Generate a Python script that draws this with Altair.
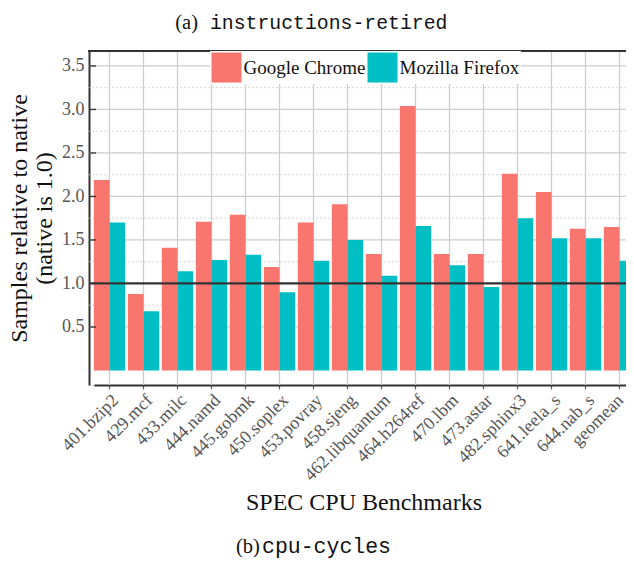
import altair as alt
import pandas as pd

benchmarks = ["401.bzip2", "429.mcf", "433.milc", "444.namd", "445.gobmk", "450.soplex",
              "453.povray", "458.sjeng", "462.libquantum", "464.h264ref", "470.lbm",
              "473.astar", "482.sphinx3", "641.leela_s", "644.nab_s", "geomean"]
chrome = [2.19, 0.88, 1.41, 1.71, 1.79, 1.19, 1.70, 1.91, 1.34, 3.04, 1.34, 1.34, 2.26, 2.05, 1.63, 1.65]
firefox = [1.70, 0.68, 1.14, 1.27, 1.33, 0.90, 1.26, 1.50, 1.09, 1.66, 1.21, 0.96, 1.75, 1.52, 1.52, 1.26]
series = ["Google Chrome", "Mozilla Firefox"]
colors = ["#F8766D", "#00BFC4"]
major_ticks = [0.5, 1.0, 1.5, 2.0, 2.5, 3.0, 3.5]
minor_ticks = [0.75, 1.25, 1.75, 2.25, 2.75, 3.25]
reference_line = [1.0]
y_domain = [-0.167, 3.672]
top_caption = ["(a)", "instructions-retired"]
bottom_caption = ["(b)", "cpu-cycles"]
y_title = ["Samples relative to native", "(native is 1.0)"]
x_title = "SPEC CPU Benchmarks"

SERIF = "Liberation Serif"
MONO = "Liberation Mono"
W, H = 537, 334

rows = []
for b, c, f in zip(benchmarks, chrome, firefox):
    rows.append({"benchmark": b, "series": series[0], "value": c})
    rows.append({"benchmark": b, "series": series[1], "value": f})
df = pd.DataFrame(rows)

yscale = alt.Scale(domain=y_domain, nice=False, zero=False)
xscale = alt.Scale(domain=benchmarks, range=[4.86, 546.14], paddingInner=0.08, paddingOuter=0)

last_label = benchmarks[-1]
xaxis = alt.Axis(labelAngle=315, labelAlign="right", labelBaseline="top",
                 labelFont=SERIF, labelFontSize=18, labelColor="#555",
                 labelPadding=2, labelLimit=0, bandPosition=0.5,
                 labelOffset={"condition": {"test": f"datum.value == '{last_label}'", "value": -5},
                              "value": 0},
                 tickColor="#666", tickSize=4, tickWidth=1.2,
                 domainColor="#333", domainWidth=2, grid=False,
                 title=x_title, titleFont=SERIF, titleFontSize=24,
                 titleFontWeight="normal", titleColor="#111",
                 titleX=274.5, titleY=124, titleAlign="center",
                 titleBaseline="alphabetic")
yaxis = alt.Axis(values=major_ticks, grid=False,
                 ticks=False, domain=True, domainColor="#333", domainWidth=2,
                 labelFont=SERIF, labelFontSize=18, labelColor="#555", labelPadding=5,
                 format=".1f",
                 title=y_title, titleFont=SERIF, titleFontSize=24,
                 titleFontWeight="normal", titleColor="#111", titleAngle=270,
                 titleX=-63, titleY=H / 2, titleAlign="center",
                 titleBaseline="alphabetic", titleLineHeight=25)

vgrid = alt.Chart(pd.DataFrame({"benchmark": benchmarks})).mark_rule(
    color="#cccccc", strokeWidth=1.2
).encode(x=alt.X("benchmark:N", sort=benchmarks, scale=xscale, axis=xaxis))

hgrid = alt.Chart(pd.DataFrame({"value": major_ticks})).mark_rule(
    color="#cccccc", strokeWidth=1.2
).encode(y=alt.Y("value:Q", scale=yscale, axis=yaxis))

minor = alt.Chart(pd.DataFrame({"value": minor_ticks})).mark_rule(
    color="#c8c8c8", strokeWidth=1, strokeDash=[1.5, 2.5]
).encode(y=alt.Y("value:Q", scale=yscale, axis=yaxis))

bars = alt.Chart(df).mark_bar().encode(
    x=alt.X("benchmark:N", sort=benchmarks, scale=xscale, axis=xaxis),
    xOffset=alt.XOffset("series:N", sort=series,
                        scale=alt.Scale(paddingInner=0, paddingOuter=0)),
    y=alt.Y("value:Q", scale=yscale, axis=yaxis),
    y2=alt.datum(0),
    color=alt.Color("series:N", sort=series,
                    scale=alt.Scale(domain=series, range=colors),
                    legend=alt.Legend(orient="none", legendX=121, legendY=0,
                                      direction="horizontal", title=None,
                                      symbolType="square", symbolSize=900,
                                      symbolStrokeWidth=0, symbolOpacity=1,
                                      labelFont=SERIF, labelFontSize=19, labelColor="#111",
                                      fillColor="white", padding=1.5,
                                      columnPadding=2, labelOffset=2)),
)

one_line = alt.Chart(pd.DataFrame({"value": reference_line})).mark_rule(
    color="#333", strokeWidth=2.2
).encode(y=alt.Y("value:Q", scale=yscale, axis=yaxis))

inner_ticks = alt.Chart(pd.DataFrame({"value": major_ticks})).mark_rule(
    color="#333", strokeWidth=1.3
).encode(y=alt.Y("value:Q", scale=yscale, axis=yaxis), x=alt.value(0), x2=alt.value(7))

top_frame = alt.Chart(pd.DataFrame({"v": [0]})).mark_rule(
    color="#333", strokeWidth=2
).encode(x=alt.value(-1), x2=alt.value(W + 10), y=alt.value(0))

cap_a = alt.Chart(pd.DataFrame({"t": [top_caption[0]]})).mark_text(
    font=SERIF, fontSize=20.5, align="right", baseline="alphabetic", color="#111"
).encode(text="t:N", x=alt.value(109), y=alt.value(-22))
cap_a2 = alt.Chart(pd.DataFrame({"t": [top_caption[1]]})).mark_text(
    font=MONO, fontSize=19.8, align="left", baseline="alphabetic", color="#111"
).encode(text="t:N", x=alt.value(121), y=alt.value(-22))
cap_b = alt.Chart(pd.DataFrame({"t": [bottom_caption[0]]})).mark_text(
    font=SERIF, fontSize=20.5, align="left", baseline="alphabetic", color="#111"
).encode(text="t:N", x=alt.value(147), y=alt.value(502))
cap_b2 = alt.Chart(pd.DataFrame({"t": [bottom_caption[1]]})).mark_text(
    font=MONO, fontSize=21.5, align="left", baseline="alphabetic", color="#111"
).encode(text="t:N", x=alt.value(173), y=alt.value(502))

chart = alt.layer(
    vgrid, hgrid, minor, bars, one_line, inner_ticks, top_frame, cap_a, cap_a2, cap_b, cap_b2
).properties(
    width=W, height=H,
    padding={"left": 81, "top": 43, "right": 0, "bottom": 173},
    autosize=alt.AutoSizeParams(type="none"),
).configure_view(stroke="transparent").configure(background="white")

chart.save("out.html", embed_options={"renderer": "svg", "actions": False})
